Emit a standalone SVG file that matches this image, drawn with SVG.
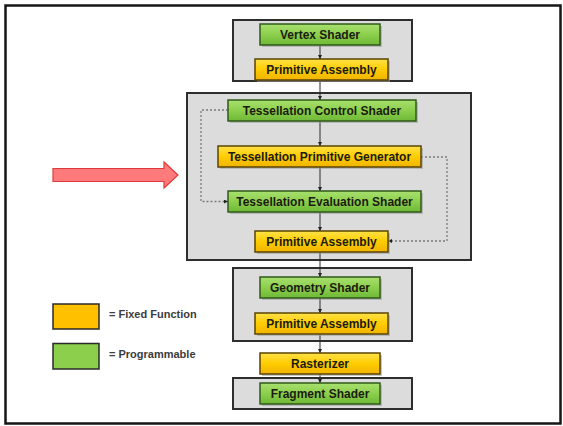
<svg xmlns="http://www.w3.org/2000/svg" width="563" height="426" viewBox="0 0 563 426">
  <defs>
    <linearGradient id="gGreen" x1="0" y1="0" x2="0" y2="1">
      <stop offset="0" stop-color="#a8e070"/>
      <stop offset="0.5" stop-color="#8ccf4c"/>
      <stop offset="1" stop-color="#6fb838"/>
    </linearGradient>
    <linearGradient id="gYellow" x1="0" y1="0" x2="0" y2="1">
      <stop offset="0" stop-color="#ffe24a"/>
      <stop offset="0.5" stop-color="#ffcc00"/>
      <stop offset="1" stop-color="#f0b400"/>
    </linearGradient>
    <marker id="ah" viewBox="0 0 6 6" refX="6" refY="3" markerWidth="4" markerHeight="4" orient="auto" markerUnits="userSpaceOnUse">
      <path d="M0,0 L6,3 L0,6 z" fill="#222"/>
    </marker>
  </defs>
  <style>
    .frame { fill: #ffffff; stroke: #161616; stroke-width: 2.5; }
    .group { fill: #dcdcdc; stroke: #2e2e2e; stroke-width: 2; }
    .shadow { fill: #9a9a9a; opacity: 0.55; }
    .prog { fill: url(#gGreen); stroke: #2f5a18; stroke-width: 1.5; }
    .fixed { fill: url(#gYellow); stroke: #5a4400; stroke-width: 1.5; }
    .label { font-family: "Liberation Sans", Arial, sans-serif; font-weight: bold; font-size: 12px; fill: #1b1b10; text-anchor: middle; }
    .flow { stroke: #2a2a2a; stroke-width: 1; fill: none; }
    .loop { stroke: #7a7a7a; stroke-width: 1.3; stroke-dasharray: 2 2; fill: none; }
    .legend { font-family: "Liberation Sans", Arial, sans-serif; font-weight: bold; font-size: 11px; fill: #3c3c3c; }
  </style>

  <!-- outer frame -->
  <rect class="frame" x="5.5" y="5.5" width="555" height="418"/>

  <!-- stage groups -->
  <g id="group-vertex"><rect class="group" x="233" y="20" width="179" height="61"/></g>
  <g id="group-tessellation"><rect class="group" x="187" y="93" width="284" height="167"/></g>
  <g id="group-geometry"><rect class="group" x="233" y="268" width="179" height="73"/></g>
  <g id="group-fragment"><rect class="group" x="233" y="378" width="179" height="31"/></g>

  <!-- connectors -->
  <g id="connectors">
    <line class="flow" x1="320" y1="45" x2="320" y2="59" marker-end="url(#ah)"/>
    <line class="flow" x1="320" y1="80" x2="320" y2="100" marker-end="url(#ah)"/>
    <line class="flow" x1="320" y1="121" x2="320" y2="146" marker-end="url(#ah)"/>
    <line class="flow" x1="320" y1="167" x2="320" y2="191" marker-end="url(#ah)"/>
    <line class="flow" x1="320" y1="212" x2="320" y2="231" marker-end="url(#ah)"/>
    <line class="flow" x1="320" y1="252" x2="320" y2="277" marker-end="url(#ah)"/>
    <line class="flow" x1="320" y1="298" x2="320" y2="313" marker-end="url(#ah)"/>
    <line class="flow" x1="320" y1="334" x2="320" y2="353" marker-end="url(#ah)"/>
    <line class="flow" x1="320" y1="374" x2="320" y2="383" marker-end="url(#ah)"/>
    <polyline class="loop" points="228,110 201,110 201,201.5 228,201.5" marker-end="url(#ah)"/>
    <polyline class="loop" points="421,157 447,157 447,241 388,241" marker-end="url(#ah)"/>
  </g>

  <!-- pipeline stages -->
  <g id="vertex-shader">
    <rect class="shadow" x="262" y="26" width="120" height="21"/>
    <rect class="prog" x="260" y="24" width="120" height="21"/>
    <text class="label" x="320" y="39">Vertex Shader</text>
  </g>
  <g id="primitive-assembly-1">
    <rect class="shadow" x="257" y="61" width="133" height="21"/>
    <rect class="fixed" x="255" y="59" width="133" height="21"/>
    <text class="label" x="321.5" y="74">Primitive Assembly</text>
  </g>
  <g id="tess-control-shader">
    <rect class="shadow" x="230" y="102" width="188" height="21"/>
    <rect class="prog" x="228" y="100" width="188" height="21"/>
    <text class="label" x="322" y="115">Tessellation Control Shader</text>
  </g>
  <g id="tess-primitive-generator">
    <rect class="shadow" x="220" y="148" width="203" height="21"/>
    <rect class="fixed" x="218" y="146" width="203" height="21"/>
    <text class="label" x="319.5" y="161">Tessellation Primitive Generator</text>
  </g>
  <g id="tess-evaluation-shader">
    <rect class="shadow" x="230" y="193" width="193" height="21"/>
    <rect class="prog" x="228" y="191" width="193" height="21"/>
    <text class="label" x="324.5" y="206">Tessellation Evaluation Shader</text>
  </g>
  <g id="primitive-assembly-2">
    <rect class="shadow" x="257" y="233" width="133" height="21"/>
    <rect class="fixed" x="255" y="231" width="133" height="21"/>
    <text class="label" x="321.5" y="246">Primitive Assembly</text>
  </g>
  <g id="geometry-shader">
    <rect class="shadow" x="262" y="279" width="120" height="21"/>
    <rect class="prog" x="260" y="277" width="120" height="21"/>
    <text class="label" x="320" y="292">Geometry Shader</text>
  </g>
  <g id="primitive-assembly-3">
    <rect class="shadow" x="257" y="315" width="133" height="21"/>
    <rect class="fixed" x="255" y="313" width="133" height="21"/>
    <text class="label" x="321.5" y="328">Primitive Assembly</text>
  </g>
  <g id="rasterizer">
    <rect class="shadow" x="262" y="355" width="120" height="21"/>
    <rect class="fixed" x="260" y="353" width="120" height="21"/>
    <text class="label" x="320" y="368">Rasterizer</text>
  </g>
  <g id="fragment-shader">
    <rect class="shadow" x="262" y="385" width="120" height="21"/>
    <rect class="prog" x="260" y="383" width="120" height="21"/>
    <text class="label" x="320" y="398">Fragment Shader</text>
  </g>

  <!-- highlight arrow pointing at the tessellation stages -->
  <g id="highlight-arrow">
    <polygon points="53,168.5 164,168.5 164,162 178,175 164,188 164,181.5 53,181.5" fill="#ff7a7a" stroke="#e23a3a" stroke-width="1.2"/>
  </g>

  <!-- legend -->
  <g id="legend-fixed">
    <rect x="53" y="304" width="46" height="25" fill="#ffc000" stroke="#2a2a2a" stroke-width="1.5"/>
    <text class="legend" x="109" y="318">= Fixed Function</text>
  </g>
  <g id="legend-programmable">
    <rect x="53" y="343.5" width="46" height="25.5" fill="#8ccf4c" stroke="#2a2a2a" stroke-width="1.5"/>
    <text class="legend" x="109" y="357.5">= Programmable</text>
  </g>
</svg>
